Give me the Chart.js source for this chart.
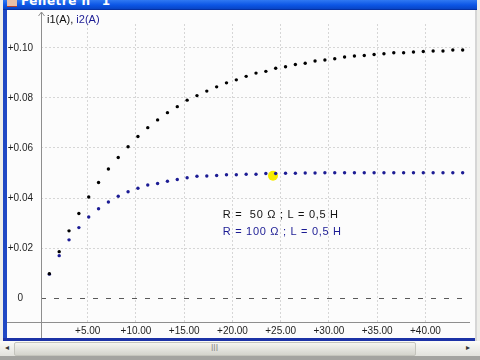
<!DOCTYPE html>
<html>
<head>
<meta charset="utf-8">
<script src="https://cdn.jsdelivr.net/npm/chart.js@4.4.1/dist/chart.umd.min.js"></script>
<style>
  body { margin: 0; width: 480px; height: 360px; overflow: hidden; position: relative; background: #eeeeea; font-family: "Liberation Sans", Arial, sans-serif; }
  #title { position: absolute; left: 3px; top: 0; width: 474px; height: 9px; overflow: hidden; background: linear-gradient(#3079f2, #0c56e6 55%, #0844c6); border-bottom: 1px solid #0632a4; }
  #title span { position: absolute; left: 18px; top: -6px; color: #fff; font: bold 12px Tahoma, "DejaVu Sans", sans-serif; letter-spacing: 0.5px; }
  #icon { position: absolute; left: 4px; top: 0; width: 10px; height: 6px; background: #e8c0a8; border-bottom: 1px solid #b04030; }
  #leftb { position: absolute; left: 3px; top: 10px; width: 4px; height: 331px; background: #2048c4; }
  #wrap { position: absolute; left: 7px; top: 10px; width: 468px; height: 328px; background: #fcfcfc; }
  #rightb { position: absolute; left: 475px; top: 10px; width: 2px; height: 331px; background: #d6d6d6; }
  #bottomb { position: absolute; left: 3px; top: 338px; width: 472px; height: 3px; background: #1c32a6; }
  #scroll { position: absolute; left: 0; top: 341px; width: 480px; height: 15px; background: linear-gradient(#fbfbf8, #e2e2dc); }
  #thumb { position: absolute; left: 14px; top: 1px; width: 400px; height: 12px; border: 1px solid #c4c4bc; border-radius: 2px; background: linear-gradient(#f4f4f0, #d4d4cc); }
  #grip { position: absolute; left: 196px; top: 1px; font: 8px "DejaVu Sans", sans-serif; color: #8a8a86; }
  .arr { position: absolute; top: 2px; font: 8px "DejaVu Sans", sans-serif; color: #333; }
  #base { position: absolute; left: 0; top: 356px; width: 480px; height: 4px; background: #a4a4a0; }
</style>
</head>
<body>
<div id="title"><div id="icon"></div><span>Fenêtre n° 1</span></div>
<div id="leftb"></div>
<div id="wrap"><canvas id="c" width="468" height="328"></canvas></div>
<div id="rightb"></div>
<div id="bottomb"></div>
<div id="scroll">
  <span class="arr" style="left:5px">◂</span>
  <div id="thumb"><span id="grip">III</span></div>
  <span class="arr" style="left:466px">▸</span>
</div>
<div id="base"></div>
<script>
// time axis (ms) and currents (A)
const times = [1.02, 2.04, 3.06, 4.08, 5.10, 6.12, 7.14, 8.16, 9.18, 10.20, 11.22, 12.24, 13.26, 14.28, 15.30,
  16.32, 17.34, 18.36, 19.38, 20.40, 21.42, 22.44, 23.46, 24.48, 25.50, 26.52, 27.54, 28.56, 29.58, 30.60,
  31.62, 32.64, 33.66, 34.68, 35.70, 36.72, 37.74, 38.76, 39.78, 40.80, 41.82, 42.84, 43.86];
const i1 = [0.0098, 0.0186, 0.0269, 0.0338, 0.0404, 0.0462, 0.0516, 0.0562, 0.0605, 0.0646, 0.0681, 0.0712,
  0.0741, 0.0765, 0.0791, 0.0809, 0.0827, 0.0844, 0.0860, 0.0872, 0.0886, 0.0899, 0.0906, 0.0918, 0.0924,
  0.0933, 0.0938, 0.0947, 0.0951, 0.0956, 0.0963, 0.0967, 0.0969, 0.0973, 0.0976, 0.0980, 0.0980, 0.0983,
  0.0985, 0.0987, 0.0987, 0.0991, 0.0991];
const i2 = [0.0096, 0.0170, 0.0233, 0.0282, 0.0324, 0.0357, 0.0384, 0.0407, 0.0425, 0.0439, 0.0452, 0.0458,
  0.0467, 0.0474, 0.0481, 0.0487, 0.0488, 0.0490, 0.0493, 0.0493, 0.0495, 0.0495, 0.0498, 0.0498, 0.0499,
  0.0499, 0.0500, 0.0500, 0.0501, 0.0501, 0.0501, 0.0501, 0.0501, 0.0501, 0.0501, 0.0501, 0.0501, 0.0501,
  0.0501, 0.0501, 0.0501, 0.0501, 0.0501];
const cursorTime = 24.2;
const cursorValue = 0.0489;
const seriesNames = ['i1(A), ', 'i2(A)'];
const notes = ['R =  50 Ω ; L = 0,5 H', 'R = 100 Ω ; L = 0,5 H'];

const BLUE = '#1c1c94';
const FONT = '"Liberation Sans", Arial, sans-serif';

const decor = {
  id: 'decor',
  beforeDatasetsDraw(chart) {
    const { ctx, chartArea: a, scales: { x, y } } = chart;
    ctx.save();
    // axes lines
    ctx.strokeStyle = '#8e8e8e';
    ctx.lineWidth = 1;
    const ax = Math.round(a.left) + 0.5;
    const by = Math.round(a.bottom) + 0.5;
    ctx.beginPath();
    ctx.moveTo(0, by); ctx.lineTo(a.right, by);
    ctx.moveTo(ax, 2); ctx.lineTo(ax, chart.height);
    ctx.moveTo(ax - 3, 6); ctx.lineTo(ax, 2); ctx.lineTo(ax + 3, 6);
    ctx.stroke();

    // series header
    ctx.font = '11px ' + FONT;
    ctx.textBaseline = 'middle';
    let hx = a.left + 6;
    ctx.fillStyle = '#111';
    ctx.fillText(seriesNames[0], hx, 10);
    hx += ctx.measureText(seriesNames[0]).width;
    ctx.fillStyle = BLUE;
    ctx.fillText(seriesNames[1], hx, 10);

    // R / L notes
    ctx.letterSpacing = '0.7px';
    ctx.fillStyle = '#111';
    ctx.fillText(notes[0], x.getPixelForValue(19.0), y.getPixelForValue(0.0332));
    ctx.fillStyle = BLUE;
    ctx.fillText(notes[1], x.getPixelForValue(19.0), y.getPixelForValue(0.0263));
    ctx.restore();
  }
};

const toPoints = (vals) => times.map((t, k) => ({ x: t, y: vals[k] }));

new Chart(document.getElementById('c'), {
  type: 'scatter',
  data: {
    datasets: [
      { label: 'i1(A)', data: toPoints(i1), pointRadius: 1.7, pointBorderWidth: 0, backgroundColor: '#000' },
      { label: 'i2(A)', data: toPoints(i2), pointRadius: 1.7, pointBorderWidth: 0, backgroundColor: BLUE },
      { label: 'curseur', data: [{ x: cursorTime, y: cursorValue }], pointRadius: 5, pointBorderWidth: 0, backgroundColor: '#f6ec00' },
    ],
  },
  options: {
    responsive: false,
    animation: false,
    layout: { padding: { top: 3, right: 0, left: 0, bottom: 0 } },
    plugins: { legend: { display: false }, tooltip: { enabled: false } },
    scales: {
      x: {
        type: 'linear',
        min: 0.154,
        max: 44.62,
        afterFit(s) { s.height = 16; },
        border: { display: false, dash: [2, 2] },
        grid: { color: '#d6d6d6', drawTicks: false },
        ticks: {
          stepSize: 5,
          includeBounds: false,
          padding: 3,
          maxRotation: 0,
          color: '#1e1e1e',
          font: { family: FONT, size: 10 },
          callback: (v) => '+' + v.toFixed(2),
        },
      },
      y: {
        type: 'linear',
        min: -0.0095,
        max: 0.1095,
        afterFit(s) { s.width = 34; },
        border: { display: false, dash: (c) => (c.tick && c.tick.value === 0 ? [5, 8] : [2, 2]) },
        grid: { color: (c) => (c.tick && c.tick.value === 0 ? '#5a5a5a' : '#d6d6d6'), drawTicks: false },
        ticks: {
          stepSize: 0.02,
          includeBounds: false,
          padding: 8,
          crossAlign: 'center',
          color: '#1e1e1e',
          font: { family: FONT, size: 10 },
          callback: (v) => (v === 0 ? '0' : '+' + v.toFixed(2)),
        },
      },
    },
  },
  plugins: [decor],
});
</script>
</body>
</html>
